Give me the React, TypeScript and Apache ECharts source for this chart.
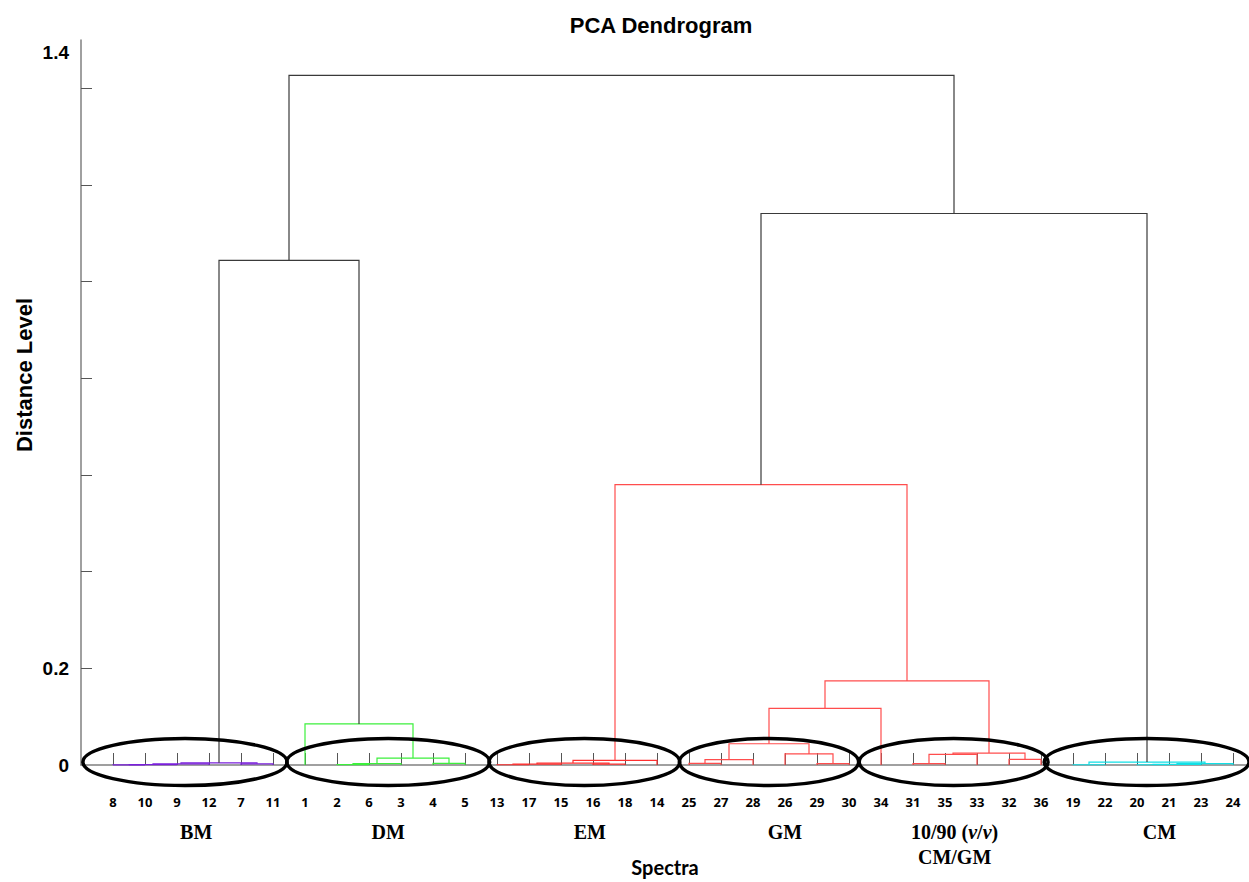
import React, { useEffect, useRef } from "react";
import * as echarts from "echarts";

// ---------- data ----------
const leafOrder = [8, 10, 9, 12, 7, 11, 1, 2, 6, 3, 4, 5, 13, 17, 15, 16, 18, 14, 25, 27, 28, 26, 29, 30, 34, 31, 35, 33, 32, 36, 19, 22, 20, 21, 23, 24];

// merges (ids 1..36 are leaves, 37.. are the merges in this order)
const mergeLeft = [8, 37, 38, 7, 39, 2, 42, 4, 43, 1, 13, 47, 16, 48, 50, 25, 52, 29, 26, 53, 56, 31, 58, 32, 59, 57, 51, 19, 20, 65, 66, 64, 63, 41, 70];
const mergeRight = [10, 9, 12, 11, 40, 6, 3, 5, 44, 45, 17, 15, 18, 49, 14, 27, 28, 30, 54, 55, 34, 35, 33, 36, 60, 61, 62, 22, 21, 23, 24, 67, 68, 46, 69];
const mergeHeight = [0.0003, 0.0006, 0.0025, 0.0025, 0.0045, 0.0008, 0.0027, 0.0035, 0.0144, 0.085, 0.0005, 0.002, 0.002, 0.004, 0.0097, 0.0035, 0.011, 0.0027, 0.023, 0.044, 0.117, 0.0027, 0.022, 0.0117, 0.0247, 0.174, 0.58, 0.0005, 0.0005, 0.0015, 0.003, 0.006, 1.141, 1.044, 1.427];
const mergeCluster = ["BM", "BM", "BM", "BM", "BM", "DM", "DM", "DM", "DM", "DM", "EM", "EM", "EM", "EM", "EM", "R", "R", "R", "R", "R", "R", "R", "R", "R", "R", "R", "R", "CM", "CM", "CM", "CM", "CM", "top", "top", "top"];

const yTickValues = [0.2, 0.4, 0.6, 0.8, 1.0, 1.2, 1.4];
const yLabelValues = [0, 0.2, 1.475];
const yLabelTexts = ["0", "0.2", "1.4"];

const groupNames = ["BM", "DM", "EM", "GM", "10/90 ({i|v}/{i|v})\nCM/GM", "CM"];

// ---------- annotation layout (axis units) ----------
const ellipseCenter = [2.25, 8.6, 14.73, 20.5, 26.27, 32.3];
const ellipseHalfWidth = [3.19, 3.17, 2.98, 2.8, 2.95, 3.2];
const groupLabelX = [2.6, 8.6, 14.9, 21.0, 26.3, 32.7];

const clusterColor: Record<string, string> = {
  BM: "#7a1fdc",
  DM: "#3cf03c",
  EM: "#ff3030",
  R: "#ff4d4d",
  CM: "#10e0e6",
  top: "#3a3a3a",
};

function buildLinks() {
  const pos: Record<number, { x: number; h: number }> = {};
  leafOrder.forEach((leaf, i) => (pos[leaf] = { x: i, h: 0 }));
  const n = leafOrder.length;
  const links: number[][] = [];
  mergeLeft.forEach((a, k) => {
    const b = mergeRight[k];
    const pa = pos[a];
    const pb = pos[b];
    pos[n + 1 + k] = { x: (pa.x + pb.x) / 2, h: mergeHeight[k] };
    links.push([pa.x, pa.h, pb.x, pb.h, mergeHeight[k]]);
  });
  return links;
}

export default function App() {
  const ref = useRef<HTMLDivElement>(null);
  useEffect(() => {
    if (!ref.current) return;
    const chart = echarts.init(ref.current, undefined, { renderer: "svg" });
    const links = buildLinks();
    const groupData = ellipseCenter.map((c, i) => [c, ellipseHalfWidth[i], groupLabelX[i], i]);

    chart.setOption({
      animation: false,
      backgroundColor: "#ffffff",
      graphic: [
        {
          type: "text",
          x: 661,
          y: 25,
          style: {
            text: "PCA Dendrogram",
            align: "center",
            verticalAlign: "middle",
            fontFamily: "Liberation Sans, Arial, sans-serif",
            fontWeight: "bold",
            fontSize: 22,
            fill: "#000",
          },
        },
        {
          type: "text",
          x: 24,
          y: 375,
          rotation: Math.PI / 2,
          style: {
            text: "Distance Level",
            align: "center",
            verticalAlign: "middle",
            fontFamily: "Liberation Sans, Arial, sans-serif",
            fontWeight: "bold",
            fontSize: 22,
            fill: "#000",
          },
        },
      ],
      grid: { left: 81, right: 0, top: 40, bottom: 114, containLabel: false },
      xAxis: {
        type: "value",
        min: -1,
        max: 35.5,
        name: "Spectra",
        nameLocation: "middle",
        nameGap: 92,
        nameTextStyle: { fontFamily: "Lato, Open Sans, sans-serif", fontWeight: "bold", fontSize: 20, color: "#000" },
        axisLine: { show: true, onZero: false, lineStyle: { color: "#808080", width: 1.5 } },
        axisTick: {
          show: true,
          inside: true,
          length: 12,
          customValues: leafOrder.map((_, i) => i),
          lineStyle: { color: "#555", width: 1 },
        },
        axisLabel: {
          show: true,
          customValues: leafOrder.map((_, i) => i),
          formatter: (v: number) => String(leafOrder[Math.round(v)]),
          margin: 30,
          fontFamily: "Open Sans, sans-serif",
          fontWeight: "bold",
          fontSize: 13,
          color: "#000",
        },
        splitLine: { show: false },
      },
      yAxis: {
        type: "value",
        min: 0,
        max: 1.5,
        axisLine: { show: true, onZero: false, lineStyle: { color: "#808080", width: 1.5 } },
        axisTick: {
          show: true,
          inside: true,
          length: 11,
          customValues: yTickValues,
          lineStyle: { color: "#555", width: 1 },
        },
        axisLabel: {
          show: true,
          customValues: yLabelValues,
          formatter: (v: number) => {
            const i = yLabelValues.findIndex((t) => Math.abs(t - v) < 1e-6);
            return i >= 0 ? yLabelTexts[i] : "";
          },
          margin: 12,
          padding: [0, 0, 10, 0],
          fontFamily: "Liberation Sans, Arial, sans-serif",
          fontWeight: "bold",
          fontSize: 19,
          color: "#000",
        },
        splitLine: { show: false },
      },
      series: [
        {
          type: "custom",
          name: "links",
          encode: { x: [0, 2], y: [1, 3, 4] },
          data: links,
          z: 2,
          renderItem: (params: any, api: any) => {
            const xa = api.value(0), ha = api.value(1), xb = api.value(2), hb = api.value(3), h = api.value(4);
            const p1 = api.coord([xa, ha]);
            const p2 = api.coord([xa, h]);
            const p3 = api.coord([xb, h]);
            const p4 = api.coord([xb, hb]);
            return {
              type: "polyline",
              shape: { points: [p1, p2, p3, p4] },
              style: { stroke: clusterColor[mergeCluster[params.dataIndex]], fill: "none", lineWidth: 1.2 },
            };
          },
        },
        {
          type: "custom",
          name: "groups",
          encode: { x: [0] },
          data: groupData,
          z: 5,
          renderItem: (params: any, api: any) => {
            const c = api.value(0), hw = api.value(1), lx = api.value(2);
            const idx = params.dataIndex;
            const base = api.coord([c, 0]);
            const rx = api.size([hw, 0])[0];
            const lp = api.coord([lx, 0]);
            return {
              type: "group",
              children: [
                {
                  type: "ellipse",
                  shape: { cx: base[0], cy: base[1] - 3, rx: rx, ry: 23.5 },
                  style: { fill: "none", stroke: "#000", lineWidth: 3.5 },
                },
                {
                  type: "text",
                  x: lp[0],
                  y: base[1] + 54,
                  style: {
                    text: groupNames[idx],
                    align: "center",
                    verticalAlign: "top",
                    fontFamily: "Liberation Serif, Times New Roman, serif",
                    fontWeight: "bold",
                    fontSize: 20,
                    lineHeight: 25,
                    fill: "#000",
                    rich: {
                      i: {
                        fontStyle: "italic",
                        fontFamily: "Liberation Serif, Times New Roman, serif",
                        fontWeight: "bold",
                        fontSize: 20,
                        lineHeight: 25,
                        fill: "#000",
                      },
                    },
                  },
                },
              ],
            };
          },
        },
      ],
    });
    return () => chart.dispose();
  }, []);
  return (
    <div
      ref={ref}
      style={{ position: "fixed", left: 0, top: 0, width: 1249, height: 882, background: "#fff" }}
    />
  );
}
